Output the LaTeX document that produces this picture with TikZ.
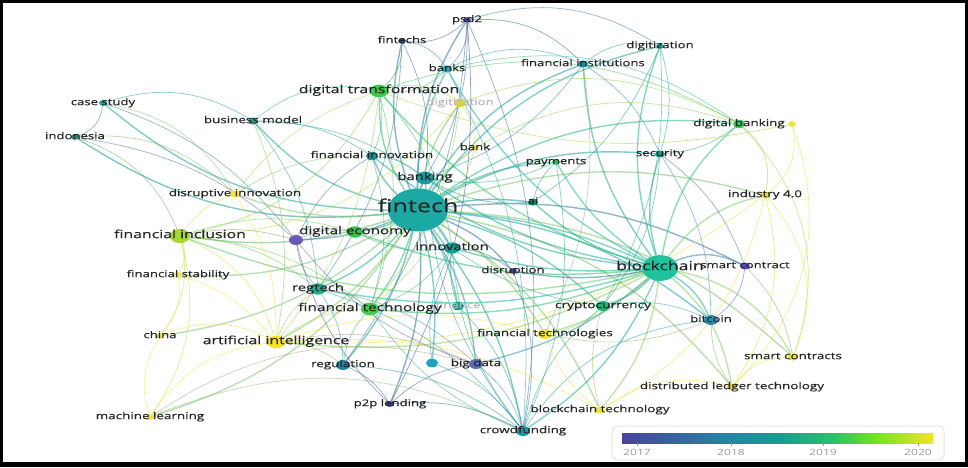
\documentclass[tikz,border=0pt]{standalone}
\usepackage{fontspec}
\newfontfamily\vosfont[FakeStretch=1.4, FakeBold=0.35]{Open Sans}
\newfontfamily\legendfont[FakeStretch=1.4]{Open Sans}
\usetikzlibrary{shapes.geometric}
\pgfdeclarelayer{background}
\pgfsetlayers{background,main}
% node colours (2017 purple ... 2020 yellow)
\definecolor{cpsd}{HTML}{4A4399}
\definecolor{cfintechs}{HTML}{2E4F8C}
\definecolor{cbanks}{HTML}{2AA9B8}
\definecolor{cdigtrans}{HTML}{3CCB4C}
\definecolor{cdigitiz}{HTML}{D9E021}
\definecolor{cbank}{HTML}{E8E244}
\definecolor{cfininst}{HTML}{2585A3}
\definecolor{cdigitizb}{HTML}{22A996}
\definecolor{cfininnov}{HTML}{1E8C95}
\definecolor{cbanking}{HTML}{1C9A9C}
\definecolor{cpayments}{HTML}{2CC06A}
\definecolor{csecurity}{HTML}{1F9A8C}
\definecolor{cdigbank}{HTML}{3CC85A}
\definecolor{cdigbanky}{HTML}{F2E43A}
\definecolor{cindustry}{HTML}{DFE033}
\definecolor{cfintech}{HTML}{1CA9A3}
\definecolor{cai}{HTML}{17866C}
\definecolor{ccasestudy}{HTML}{21A08C}
\definecolor{cindonesia}{HTML}{1E8C78}
\definecolor{cbusmodel}{HTML}{1EA58E}
\definecolor{cdisinnov}{HTML}{F2E244}
\definecolor{cfinincl}{HTML}{A6D82C}
\definecolor{cdigecop}{HTML}{6A5AB8}
\definecolor{cdigeco}{HTML}{35C24A}
\definecolor{cinnovation}{HTML}{1A9A92}
\definecolor{cdisruption}{HTML}{463E90}
\definecolor{cblockchain}{HTML}{1EC29C}
\definecolor{csmartcon}{HTML}{5A4AA8}
\definecolor{cfinstab}{HTML}{F0E250}
\definecolor{cregtech}{HTML}{20B08A}
\definecolor{cfintechnology}{HTML}{48C84C}
\definecolor{cfinance}{HTML}{1A9A88}
\definecolor{ccrypto}{HTML}{25B072}
\definecolor{cbitcoin}{HTML}{2A8EB2}
\definecolor{cfintechnologies}{HTML}{F2E232}
\definecolor{cchina}{HTML}{EAE254}
\definecolor{cartint}{HTML}{F4E424}
\definecolor{cregulation}{HTML}{1A8A9C}
\definecolor{canon}{HTML}{1AA2BA}
\definecolor{cbigdata}{HTML}{5A6CB8}
\definecolor{csmartcons}{HTML}{F4E434}
\definecolor{cdlt}{HTML}{E8DC2E}
\definecolor{cptp}{HTML}{3C3A8C}
\definecolor{cmachine}{HTML}{F0E244}
\definecolor{cbctech}{HTML}{F0E244}
\definecolor{ccrowd}{HTML}{1A9AA2}
\definecolor{labeltext}{HTML}{262626}
\definecolor{legendtext}{HTML}{9A9A9A}
% overlay colour bar
\pgfdeclarehorizontalshading{years}{100bp}{color(0bp)=(cpsd); color(25bp)=(cpsd);
  color(42bp)=(cfininst); color(50bp)=(cinnovation); color(59bp)=(cpayments);
  color(66bp)=(cfinincl!70!green); color(75bp)=(cartint); color(100bp)=(cartint)}
\begin{document}
\begin{tikzpicture}[x=1pt, y=-1pt,
    kw/.style={ellipse, inner sep=0pt, draw=none, minimum width=#1*2pt, minimum height=#1*1.43pt},
    lbl/.style={anchor=mid, inner sep=0pt},
    link/.style={line width=0.75pt, draw opacity=0.5},
    hublink/.style={line width=1.4pt, draw opacity=0.55}]
\useasboundingbox (0,0) rectangle (968,467);

% keywords
\foreach \n/\x/\y/\r in {psd/467/20/4, fintechs/402/41/4, banks/447/69/5, digtrans/379/91/9,
    digitiz/460/103/6, bank/475/148/4, fininst/583/64/5, digitizb/660/46/4, fininnov/372/156/6,
    banking/425/178/9, payments/556/162/4, security/660/154/5, digbank/739/124/6,
    digbanky/792/124/4, industry/765/195/5, fintech/418/210/30, ai/533/202/5,
    casestudy/103/103/4, indonesia/75/137/4, busmodel/253/121/5, disinnov/235/194/5,
    finincl/180/236/10, digecop/296/240/7, digeco/355/232/8, innovation/452/248/8,
    disruption/513/271/4, blockchain/660/268/18, smartcon/745/266/5, finstab/178/275/4,
    regtech/318/289/8, fintechnology/370/309/9, finance/458/306/6, crypto/603/306/7,
    bitcoin/711/320/7, fintechnologies/545/334/7, china/160/336/4, artint/276/342/9,
    regulation/343/365/7, anon/432/363/6, bigdata/476/364/7, smartcons/793/357/5,
    dlt/732/387/5, ptp/390/404/4, machine/150/417/4, bctech/600/410/5, crowd/523/431/7}
  \node[kw=\r, fill=c\n] (\n) at (\x,\y) {};

\begin{pgfonlayer}{background}
  \fill[black] (0,0) rectangle (968,467);
  \fill[white] (3,3) rectangle (965,462);
  % links from the two hubs
  \foreach \a/\b/\k in {fintech/psd/10, fintech/fintechs/10, fintech/banks/8, fintech/digtrans/10,
      fintech/digitiz/8, fintech/bank/5, fintech/fininst/12, fintech/digitizb/12, fintech/fininnov/8,
      fintech/banking/5, fintech/payments/8, fintech/security/10, fintech/digbank/12,
      fintech/industry/10, fintech/ai/5, fintech/casestudy/12, fintech/indonesia/12,
      fintech/busmodel/10, fintech/disinnov/8, fintech/finincl/8, fintech/digecop/6,
      fintech/digeco/5, fintech/innovation/5, fintech/disruption/8, fintech/blockchain/6,
      fintech/smartcon/10, fintech/finstab/10, fintech/regtech/8, fintech/fintechnology/6,
      fintech/finance/6, fintech/crypto/8, fintech/bitcoin/10, fintech/fintechnologies/8,
      fintech/china/10, fintech/artint/8, fintech/regulation/8, fintech/anon/6, fintech/bigdata/8,
      fintech/smartcons/12, fintech/dlt/12, fintech/ptp/8, fintech/machine/12, fintech/bctech/10,
      fintech/crowd/8, blockchain/crypto/8, blockchain/bitcoin/10, blockchain/smartcon/15,
      blockchain/smartcons/15, blockchain/dlt/12, blockchain/bctech/10, blockchain/crowd/10,
      blockchain/security/10, blockchain/digbank/12, blockchain/industry/12, blockchain/ai/8,
      blockchain/payments/8, blockchain/fininst/10, blockchain/digitizb/12, blockchain/banking/8,
      blockchain/innovation/6, blockchain/fintechnology/8, blockchain/fintechnologies/8,
      blockchain/regtech/8, blockchain/digtrans/10, blockchain/bigdata/8, blockchain/finincl/10,
      blockchain/artint/10, blockchain/banks/10, blockchain/digeco/8, blockchain/fininnov/10,
      blockchain/disruption/6}
    \draw[hublink, draw=c\a!50!c\b] (\a) to[bend left=1.6*\k] (\b);
  % other links
  \foreach \a/\b/\k in {casestudy/busmodel/15, casestudy/indonesia/20, casestudy/disinnov/15,
      casestudy/digecop/10, indonesia/finincl/15, indonesia/disinnov/15, indonesia/digecop/10,
      busmodel/digtrans/15, busmodel/fininnov/10, busmodel/banking/10, busmodel/regtech/10,
      busmodel/artint/10, psd/fintechs/15, psd/banks/15, psd/fininst/15, psd/digitizb/15,
      psd/banking/10, psd/regulation/10, psd/ptp/10, psd/crowd/10, fintechs/banks/15,
      fintechs/digtrans/15, fintechs/banking/10, fintechs/regtech/10, banks/fininst/15,
      banks/digtrans/15, banks/crowd/10, banks/digbank/15, digtrans/digbank/15, digtrans/finincl/15,
      digtrans/fintechnology/10, digtrans/artint/10, digtrans/digitiz/15, digtrans/fininnov/10,
      digtrans/innovation/10, digitiz/bank/10, digitiz/digbank/15, digitiz/fintechnology/10,
      digitiz/finincl/15, bank/digbank/15, bank/fintechnology/10, fininst/digitizb/15,
      fininst/security/10, fininst/fintechnologies/10, fininst/banking/10, digitizb/ai/10,
      digitizb/crypto/10, digitizb/security/10, digbank/industry/20, digbank/smartcons/20,
      digbank/security/10, digbanky/industry/20, digbanky/dlt/20, digbanky/digtrans/10,
      industry/smartcons/20, industry/artint/12, industry/bctech/15, industry/dlt/15,
      security/bitcoin/10, security/crypto/10, security/smartcon/10, payments/crowd/10,
      payments/banking/10, ai/payments/10, ai/banking/10, finincl/finstab/15, finincl/china/15,
      finincl/artint/15, finincl/machine/15, finincl/digeco/10, finincl/regtech/10,
      finincl/fintechnology/10, finincl/digecop/8, finincl/disinnov/10, finstab/china/15,
      finstab/artint/10, china/artint/15, machine/artint/15, machine/china/15, machine/bigdata/15,
      machine/crowd/15, artint/regtech/10, artint/fintechnology/10, artint/bigdata/10,
      artint/bctech/10, artint/regulation/10, artint/fintechnologies/10, regtech/regulation/10,
      regtech/fintechnology/10, regtech/bigdata/10, regtech/digecop/10, regtech/crowd/10,
      regulation/ptp/10, regulation/crowd/10, regulation/fintechnology/10, ptp/crowd/10,
      ptp/bigdata/10, ptp/digecop/10, bigdata/crowd/10, bigdata/digecop/10, anon/crowd/10,
      anon/innovation/10, crowd/innovation/10, crowd/crypto/10, crowd/fintechnology/10,
      crowd/bitcoin/15, crowd/banking/10, bctech/dlt/15, bctech/fintechnologies/10,
      bctech/crypto/10, dlt/smartcons/15, dlt/bitcoin/10, smartcon/bitcoin/15,
      smartcon/smartcons/10, crypto/bitcoin/10, crypto/fintechnologies/10, crypto/innovation/8,
      innovation/disruption/10, innovation/digeco/10, innovation/fintechnology/10,
      innovation/banking/10, digecop/fininnov/10, digecop/digeco/10, disinnov/fininnov/10,
      disinnov/artint/10, disinnov/digtrans/10, fininnov/banking/10, fininnov/fintechnology/10,
      finance/crowd/10, finance/innovation/8, disruption/crowd/10, bitcoin/fintechnologies/10}
    \draw[link, draw=c\a!50!c\b] (\a) to[bend left=1.6*\k] (\b);
\end{pgfonlayer}

% labels
\foreach \n/\t/\s/\c in {psd/psd2/9.4/labeltext, fintechs/fintechs/9.4/labeltext,
    banks/banks/9.4/labeltext, digtrans/digital transformation/11.3/labeltext,
    digitiz/digitization/9.4/gray!55, bank/bank/9.4/labeltext,
    fininst/financial institutions/9.4/labeltext, digitizb/digitization/9.4/labeltext,
    fininnov/financial innovation/9.6/labeltext, banking/banking/10.6/labeltext,
    payments/payments/9.4/labeltext, security/security/9.4/labeltext,
    digbank/digital banking/9.6/labeltext, industry/industry 4.0/9.6/labeltext,
    fintech/fintech/18/labeltext, ai/ai/9.4/labeltext, casestudy/case study/9.4/labeltext,
    indonesia/indonesia/9.4/labeltext, busmodel/business model/9.6/labeltext,
    disinnov/disruptive innovation/9.6/labeltext, finincl/financial inclusion/11.3/labeltext,
    digeco/digital economy/10.8/labeltext, innovation/innovation/10.6/labeltext,
    disruption/disruption/9.4/labeltext, blockchain/blockchain/12.6/labeltext,
    smartcon/smart contract/9.4/labeltext, finstab/financial stability/9.4/labeltext,
    regtech/regtech/10.6/labeltext, fintechnology/financial technology/11/labeltext,
    finance/finance/9.4/gray!55, crypto/cryptocurrency/9.8/labeltext,
    bitcoin/bitcoin/9.4/labeltext, fintechnologies/financial technologies/9.6/labeltext,
    china/china/9.4/labeltext, artint/artificial intelligence/11.3/labeltext,
    regulation/regulation/9.6/labeltext, bigdata/big data/9.6/labeltext,
    smartcons/smart contracts/9.6/labeltext, dlt/distributed ledger technology/9.6/labeltext,
    ptp/p2p lending/9.4/labeltext, machine/machine learning/9.6/labeltext,
    bctech/blockchain technology/9.6/labeltext, crowd/crowdfunding/9.6/labeltext}
  \node[lbl, text=\c, font=\vosfont\fontsize{\s}{\s}\selectfont] at (\n) {\t};

% overlay legend
\draw[gray!20, fill=white, rounded corners=5pt, line width=1pt] (612,426) rectangle (944,460);
\shade[shading=years] (622,433) rectangle (933,443);
\foreach \yr/\x in {2017/637, 2018/731, 2019/823, 2020/918} {
  \draw[legendtext, line width=0.6pt] (\x,443) -- (\x,446);
  \node[legendtext, font=\legendfont\fontsize{8.6}{9}\selectfont, anchor=mid] at (\x,453) {\yr};
}
\end{tikzpicture}
\end{document}
